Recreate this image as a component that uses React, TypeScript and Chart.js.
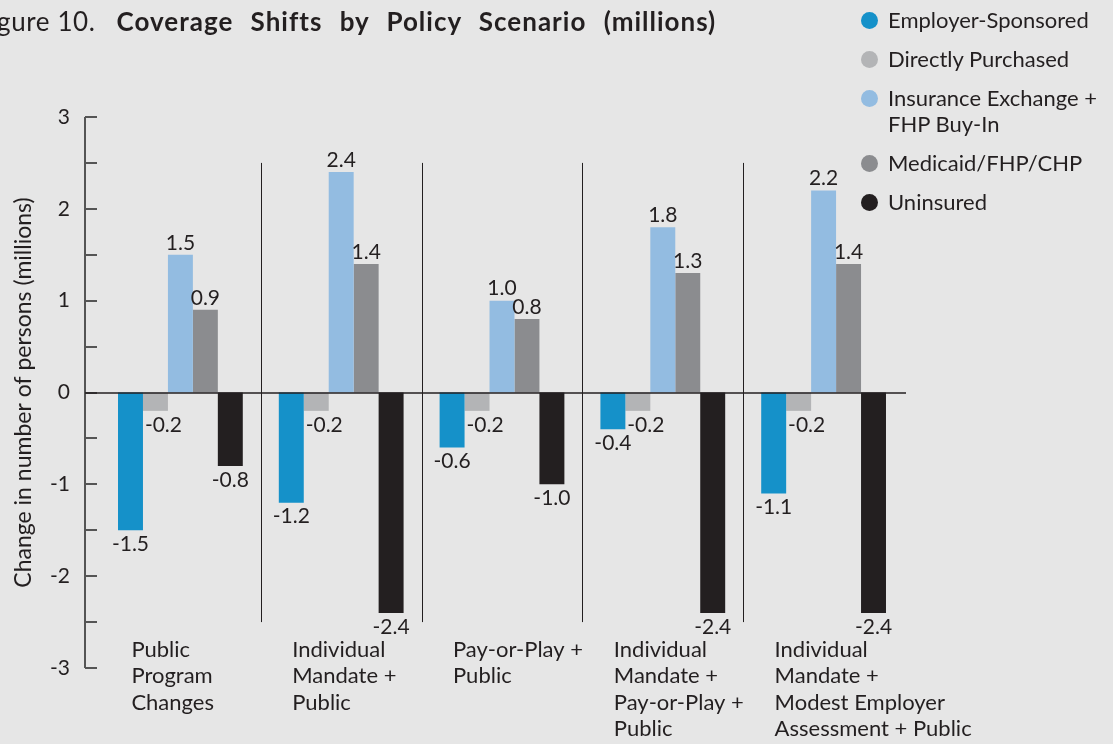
import React, { useEffect, useRef } from "react";
import { Chart, registerables } from "chart.js";

Chart.register(...registerables);

const titlePrefix = "Figure 10.";
const titleMain = "Coverage Shifts by Policy Scenario (millions)";
const yAxisTitle = "Change in number of persons (millions)";

const categories: string[][] = [
  ["Public", "Program", "Changes"],
  ["Individual", "Mandate +", "Public"],
  ["Pay-or-Play +", "Public"],
  ["Individual", "Mandate +", "Pay-or-Play +", "Public"],
  ["Individual", "Mandate +", "Modest Employer", "Assessment + Public"],
];

const seriesNames = [
  "Employer-Sponsored",
  "Directly Purchased",
  "Insurance Exchange +\nFHP Buy-In",
  "Medicaid/FHP/CHP",
  "Uninsured",
];
const seriesColors = ["#1591c9", "#b3b4b6", "#93bce1", "#8b8c8f", "#231f20"];

const employerSponsored = [-1.5, -1.2, -0.6, -0.4, -1.1];
const directlyPurchased = [-0.2, -0.2, -0.2, -0.2, -0.2];
const insuranceExchange = [1.5, 2.4, 1.0, 1.8, 2.2];
const medicaidFhpChp = [0.9, 1.4, 0.8, 1.3, 1.4];
const uninsured = [-0.8, -2.4, -1.0, -2.4, -2.4];

const seriesValues = [employerSponsored, directlyPurchased, insuranceExchange, medicaidFhpChp, uninsured];

const yMin = -3;
const yMax = 3;
const yStep = 1;
const minorStep = 0.5;

const FONT = "Lato, 'Open Sans', sans-serif";
const INK = "#231f20";

const axisPlugin = {
  id: "customAxis",
  afterDatasetsDraw(chart: any) {
    const { ctx, scales } = chart;
    const y = scales.y;
    const x = scales.x;
    const axisX = chart.chartArea.left - 15;
    ctx.save();
    ctx.strokeStyle = "#555555";
    ctx.lineWidth = 2;
    ctx.beginPath();
    ctx.moveTo(axisX, y.getPixelForValue(yMax));
    ctx.lineTo(axisX, y.getPixelForValue(yMin));
    ctx.stroke();
    for (let v = yMin; v <= yMax + 1e-9; v += minorStep) {
      const py = Math.round(y.getPixelForValue(v));
      ctx.beginPath();
      ctx.moveTo(axisX, py);
      ctx.lineTo(axisX + 12, py);
      ctx.stroke();
    }
    ctx.strokeStyle = INK;
    ctx.lineWidth = 1.5;
    const zy = Math.round(y.getPixelForValue(0));
    ctx.beginPath();
    ctx.moveTo(axisX, zy);
    ctx.lineTo(chart.chartArea.right + 2, zy);
    ctx.stroke();
    ctx.lineWidth = 1;
    const n = categories.length;
    for (let i = 0; i < n - 1; i++) {
      const sx = Math.round((x.getPixelForValue(i) + x.getPixelForValue(i + 1)) / 2) + 0.5;
      ctx.beginPath();
      ctx.moveTo(sx, y.getPixelForValue(2.5));
      ctx.lineTo(sx, y.getPixelForValue(-2.5));
      ctx.stroke();
    }
    ctx.restore();
  },
};

const valueLabelPlugin = {
  id: "valueLabels",
  afterDatasetsDraw(chart: any) {
    const { ctx } = chart;
    ctx.save();
    ctx.font = `21px ${FONT}`;
    ctx.fillStyle = INK;
    ctx.textAlign = "center";
    ctx.textBaseline = "middle";
    chart.data.datasets.forEach((ds: any, di: number) => {
      const meta = chart.getDatasetMeta(di);
      meta.data.forEach((bar: any, i: number) => {
        const v = ds.data[i];
        const txt = v.toFixed(1);
        const dx = di === 1 ? 8 : 0;
        if (v >= 0) ctx.fillText(txt, bar.x + dx, bar.y - 12);
        else ctx.fillText(txt, bar.x + dx, bar.y + 14);
      });
    });
    ctx.restore();
  },
};

export default function App() {
  const canvasRef = useRef<HTMLCanvasElement | null>(null);

  useEffect(() => {
    document.body.style.margin = "0";
    document.body.style.background = "#e6e6e6";
    const canvas = canvasRef.current;
    if (!canvas) return;
    const chart = new Chart(canvas, {
      type: "bar",
      data: {
        labels: categories,
        datasets: seriesValues.map((vals, i) => ({
          label: seriesNames[i],
          data: vals,
          backgroundColor: seriesColors[i],
          borderWidth: 0,
          categoryPercentage: 0.776,
          barPercentage: 1.0,
        })),
      },
      options: {
        animation: false,
        responsive: false,
        devicePixelRatio: 1,
        layout: { padding: { left: 0, top: 117, right: 209, bottom: 0 } },
        plugins: {
          legend: { display: false },
          tooltip: { enabled: false },
          title: { display: false },
        },
        scales: {
          x: {
            grid: { display: false, drawTicks: false },
            border: { display: false },
            ticks: {
              align: "start",
              mirror: true,
              labelOffset: -49,
              padding: 5,
              autoSkip: false,
              maxRotation: 0,
              minRotation: 0,
              color: INK,
              font: { family: FONT, size: 22, lineHeight: 1.2 },
            },
            afterFit(scale: any) {
              scale.height = 76;
            },
          },
          y: {
            min: yMin,
            max: yMax,
            grid: { display: false, drawTicks: false },
            border: { display: false },
            ticks: {
              stepSize: yStep,
              padding: 30,
              color: INK,
              font: { family: FONT, size: 21 },
              callback: (v: any) => String(v),
            },
            title: {
              display: true,
              text: yAxisTitle,
              color: INK,
              font: { family: FONT, size: 23, weight: "normal" },
              padding: { top: 10, bottom: 0 },
            },
            afterFit(scale: any) {
              scale.width = 100;
            },
          },
        },
      },
      plugins: [axisPlugin, valueLabelPlugin],
    });
    return () => chart.destroy();
  }, []);

  return (
    <div
      style={{
        position: "relative",
        width: 1113,
        height: 744,
        overflow: "hidden",
        background: "#e6e6e6",
        fontFamily: FONT,
        color: INK,
      }}
    >
      <canvas ref={canvasRef} width={1113} height={744} style={{ position: "absolute", left: 0, top: 0 }} />
      <div
        style={{
          position: "absolute",
          left: -25,
          top: 5,
          fontSize: 26,
          whiteSpace: "nowrap",
          lineHeight: "32px",
        }}
      >
        <span style={{ letterSpacing: 0.6 }}>{titlePrefix}</span>
        <span style={{ fontWeight: 700, marginLeft: 21, letterSpacing: 1, wordSpacing: 10 }}>{titleMain}</span>
      </div>
      <div
        style={{
          position: "absolute",
          left: 861,
          top: 7,
          display: "flex",
          flexDirection: "column",
          gap: 13,
          fontSize: 22,
          lineHeight: "26px",
        }}
      >
        {seriesNames.map((name, i) => (
          <div key={name} style={{ display: "flex", alignItems: "flex-start" }}>
            <span
              style={{
                width: 17,
                height: 17,
                borderRadius: "50%",
                background: seriesColors[i],
                marginTop: 5,
                marginRight: 10,
                flex: "none",
              }}
            />
            <span style={{ whiteSpace: "pre" }}>{name}</span>
          </div>
        ))}
      </div>
    </div>
  );
}
